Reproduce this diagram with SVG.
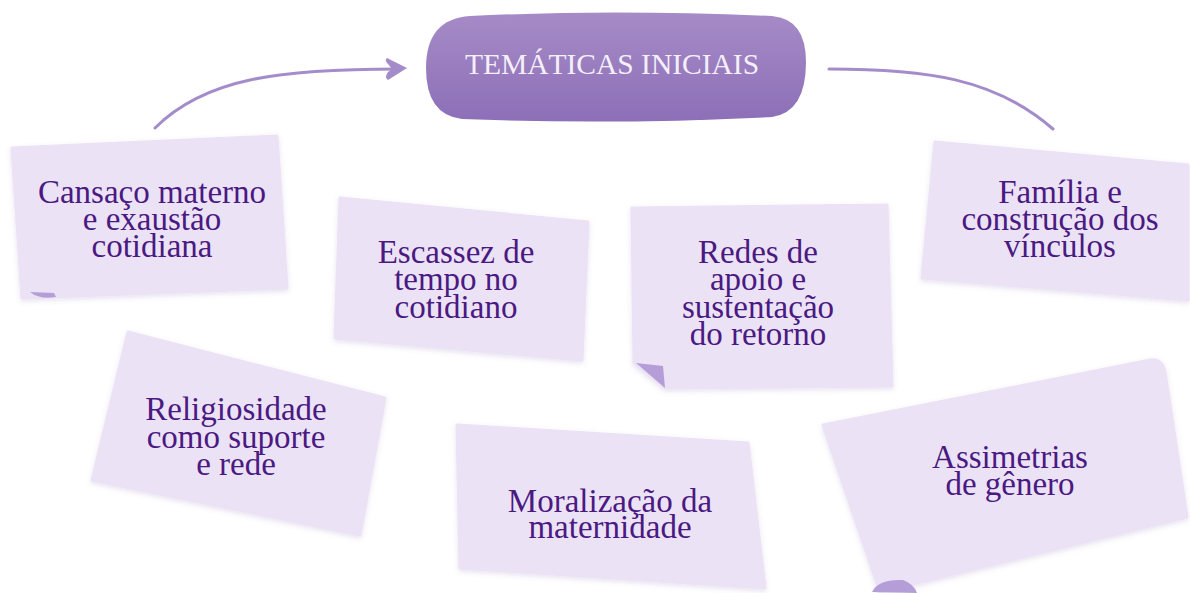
<svg xmlns="http://www.w3.org/2000/svg" width="1190" height="593" viewBox="0 0 1190 593">
<style>
.note{fill:#ece2f5;stroke:#ece2f5;stroke-width:3;stroke-linejoin:round;filter:url(#sh)}
.fold{fill:#b59ed8}
.lbl{font-family:'Liberation Serif','Tinos','DejaVu Serif',serif;font-size:33px;fill:#4a1a82;text-anchor:middle}
.ttl{font-family:'Liberation Serif','Tinos','DejaVu Serif',serif;font-size:29.5px;fill:#f4effa;text-anchor:middle}
.con{fill:none;stroke:#a48ccb;stroke-width:3;stroke-linecap:round}
</style>
<defs>
<filter id="sh" x="-10%" y="-10%" width="120%" height="120%">
<feDropShadow dx="0" dy="2" stdDeviation="2.5" flood-color="#7a5aa8" flood-opacity="0.18"/>
</filter>
<linearGradient id="pill" x1="0" y1="0" x2="0" y2="1">
<stop offset="0" stop-color="#a68bc7"/>
<stop offset="1" stop-color="#8c6fb7"/>
</linearGradient>
</defs>
<rect width="1190" height="593" fill="#ffffff"/>
<g id="connectors">
<path class="con" d="M155,128 C205,78 280,69 398,69"/>
<path d="M387,58 L407,68 L388,80 Q384,77 388,72 L392,69 L388,64 Q384,60 387,58 Z" fill="#a48ccb"/>
<path class="con" d="M829,69 C925,69 995,78 1053,129"/>
</g>
<g id="title">
<path d="M470,16 Q612,9 772,16 Q806,19 806,62 Q806,112 772,117 Q612,125 462,119 Q426,115 426,68 Q426,19 470,16 Z" fill="url(#pill)"/>
<text class="ttl" x="612" y="74">TEMÁTICAS INICIAIS</text>
</g>
<g id="n1">
<path class="note" d="M12,148 L277,136 L287,288 L22,298 Z"/>
<path class="fold" d="M30,292 Q40,300 56,297 L54,293 Z"/>
<text class="lbl" x="152" y="203">Cansaço materno</text>
<text class="lbl" x="152" y="230">e exaustão</text>
<text class="lbl" x="152" y="257">cotidiana</text>
</g>
<g id="n2">
<path class="note" d="M340,198 L588,222 L582,360 L335,338 Z"/>
<text class="lbl" x="456" y="263">Escassez de</text>
<text class="lbl" x="456" y="290">tempo no</text>
<text class="lbl" x="456" y="318">cotidiano</text>
</g>
<g id="n3">
<path class="note" d="M632,208 L887,205 L892,386 L665,388 L634,363 Z"/>
<path class="fold" d="M636,363 L663,366 L665,388 Z"/>
<text class="lbl" x="758" y="263">Redes de</text>
<text class="lbl" x="758" y="290">apoio e</text>
<text class="lbl" x="758" y="318">sustentação</text>
<text class="lbl" x="758" y="345">do retorno</text>
</g>
<g id="n4">
<path class="note" d="M935,142 L1188,165 L1188,300 L922,278 Z"/>
<text class="lbl" x="1060" y="203">Família e</text>
<text class="lbl" x="1060" y="230">construção dos</text>
<text class="lbl" x="1060" y="257">vínculos</text>
</g>
<g id="n5">
<path class="note" d="M128,332 L385,398 L360,535 L92,480 Z"/>
<text class="lbl" x="236" y="420">Religiosidade</text>
<text class="lbl" x="236" y="448">como suporte</text>
<text class="lbl" x="236" y="475">e rede</text>
</g>
<g id="n6">
<path class="note" d="M457,425 L748,443 L765,588 L460,568 Z"/>
<text class="lbl" x="610" y="512">Moralização da</text>
<text class="lbl" x="610" y="538">maternidade</text>
</g>
<g id="n7">
<path class="note" d="M823,425 L1150,360 Q1162,358 1165,372 L1187,517 L880,592 Z"/>
<path class="fold" d="M872,592 Q878,579 903,580 Q914,584 917,593 Z"/>
<text class="lbl" x="1010" y="468">Assimetrias</text>
<text class="lbl" x="1010" y="495">de gênero</text>
</g>
</svg>
